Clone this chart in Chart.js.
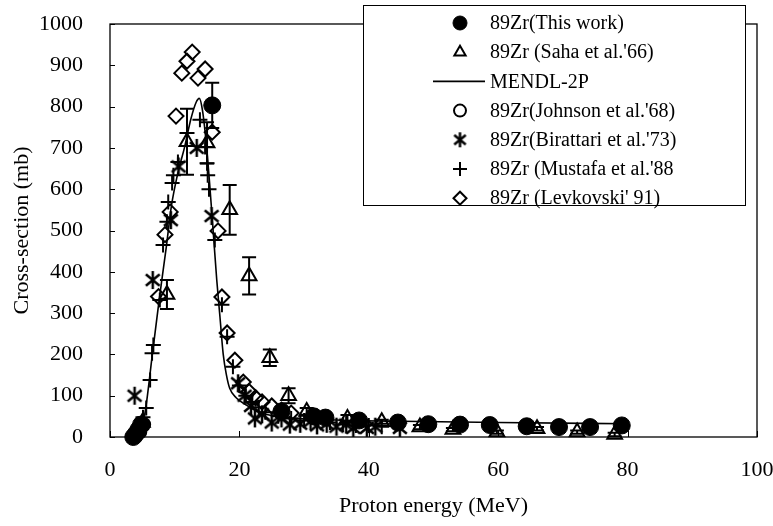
<!DOCTYPE html>
<html>
<head>
<meta charset="utf-8">
<script src="https://cdn.jsdelivr.net/npm/chart.js@4/dist/chart.umd.min.js"></script>
<style>
  html, body { margin: 0; padding: 0; background: #fff; }
  #wrap { width: 773px; height: 526px; position: relative; }
</style>
</head>
<body>
<div id="wrap"><canvas id="chart"></canvas></div>
<script>
/* values: energy in MeV, cross-section in mb */

// 89Zr (This work), filled circles with error bars
const workE   = [3.6, 4.0, 4.4, 4.8, 15.8, 26.5, 31.5, 33.3, 38.5, 44.5, 49.2, 54.1, 58.7, 64.4, 69.4, 74.2, 79.1];
const workXS  = [0, 8, 18, 30, 803, 62, 50, 47, 40, 35, 31, 30, 29, 26, 24, 24, 28];
const workErr = [2, 2, 3, 3, 55, 6, 5, 5, 4, 4, 3, 3, 3, 3, 3, 3, 3];

// Saha et al.'66, open triangles with error bars
const sahaE   = [5.0, 8.8, 11.9, 15.0, 18.5, 21.5, 24.7, 27.6, 30.4, 36.7, 42.0, 47.9, 53.0, 59.8, 66.0, 72.2, 78.0];
const sahaXS  = [35, 345, 715, 712, 550, 390, 192, 100, 62, 45, 37, 24, 18, 12, 20, 12, 6];
const sahaErr = [5, 35, 80, 50, 60, 45, 20, 18, 8, 8, 5, 5, 4, 4, 4, 4, 4];

// MENDL-2P calculation
const mendlE  = [3.8, 4.6, 5.2, 5.7, 6.5, 7.6, 8.7, 9.5, 10.5, 11.5, 12.5, 13.3, 13.8, 14.3, 15.0, 15.8, 16.5, 17.0, 17.5, 18.0, 18.5, 19.5, 21.0, 23.0, 25.0, 28.0, 35.0, 45.0, 60.0, 80.0];
const mendlXS = [0, 10, 40, 90, 194, 332, 460, 560, 640, 700, 770, 810, 820, 790, 690, 530, 380, 290, 200, 150, 118, 95, 78, 60, 52, 46, 41, 38, 35, 32];

// Johnson et al.'68, open circles
const johnE  = [4.0, 4.6, 5.2];
const johnXS = [2, 12, 30];

// Birattari et al.'73, asterisks
const birE  = [3.8, 6.6, 9.4, 10.6, 13.4, 15.7, 19.8, 20.8, 21.8, 22.4, 23.5, 25.0, 26.5, 27.8, 29.4, 31.0, 32.0, 33.5, 35.0, 36.5, 37.6, 39.7, 41.0, 44.8];
const birXS = [100, 380, 525, 655, 700, 535, 130, 100, 75, 45, 55, 35, 45, 30, 32, 38, 28, 32, 25, 30, 22, 22, 25, 22];

// Mustafa et al.'88, plus signs
const musE  = [5.1, 5.6, 6.2, 6.5, 6.7, 7.7, 8.2, 8.8, 9.0, 9.6, 9.8, 10.5, 11.9, 13.9, 14.7, 15.0, 15.1, 15.3, 16.2, 17.3, 18.1, 19.0, 20.0, 21.0, 22.0, 23.0, 24.0, 26.0, 28.0, 30.0, 32.0, 34.0, 36.0, 38.0, 40.0, 42.0];
const musXS = [48, 70, 138, 203, 223, 332, 465, 521, 569, 615, 634, 666, 736, 768, 702, 663, 634, 600, 477, 320, 243, 170, 125, 100, 85, 72, 60, 50, 45, 40, 38, 35, 30, 28, 28, 25];

// Levkovski '91, open diamonds
const levE  = [7.5, 8.5, 9.3, 10.2, 11.1, 11.9, 12.7, 13.6, 14.7, 15.8, 16.7, 17.3, 18.1, 19.3, 20.6, 21.5, 22.5, 23.5, 25.0, 26.5, 28.0];
const levXS = [340, 490, 545, 777, 881, 910, 932, 869, 891, 738, 499, 339, 252, 186, 133, 110, 95, 85, 75, 65, 58];

const xTicks = [0, 20, 40, 60, 80, 100];
const yTicks = [0, 100, 200, 300, 400, 500, 600, 700, 800, 900, 1000];

const FONT = "'Liberation Serif', 'Times New Roman', serif";

function pts(xs, ys) {
    return xs.map((x, i) => ({ x: x, y: ys[i] }));
}

// six-armed asterisk marker
function makeAsterisk(size, lw) {
    const c = document.createElement('canvas');
    c.width = size;
    c.height = size;
    const g = c.getContext('2d');
    g.strokeStyle = '#000';
    g.lineWidth = lw;
    const m = size / 2, r = size / 2 - 1;
    [90, 40, 140].forEach(a => {
        const rad = a * Math.PI / 180;
        g.beginPath();
        g.moveTo(m - r * Math.cos(rad), m - r * Math.sin(rad));
        g.lineTo(m + r * Math.cos(rad), m + r * Math.sin(rad));
        g.stroke();
    });
    return c;
}
const asterisk = makeAsterisk(20, 2.5);
const asteriskSmall = makeAsterisk(17, 2.5);

const datasets = [
    {
        label: "89Zr(This work)", data: pts(workE, workXS), errors: workErr,
        pointStyle: 'circle', pointRadius: 8.5, backgroundColor: '#000', borderColor: '#000', borderWidth: 1,
        legendRadius: 7, legendFill: '#000'
    },
    {
        label: "89Zr (Saha et al.'66)", data: pts(sahaE, sahaXS), errors: sahaErr,
        pointStyle: 'triangle', pointRadius: 8.5, backgroundColor: 'rgba(0,0,0,0)', borderColor: '#000', borderWidth: 2,
        legendRadius: 6.5
    },
    {
        label: "MENDL-2P", data: pts(mendlE, mendlXS), showLine: true, pointRadius: 0,
        borderColor: '#000', borderWidth: 1.6, cubicInterpolationMode: 'monotone', legendLine: true
    },
    {
        label: "89Zr(Johnson et al.'68)", data: pts(johnE, johnXS),
        pointStyle: 'circle', pointRadius: 6.5, backgroundColor: 'rgba(0,0,0,0)', borderColor: '#000', borderWidth: 2,
        legendRadius: 6
    },
    {
        label: "89Zr(Birattari et al.'73)", data: pts(birE, birXS),
        pointStyle: asterisk, pointRadius: 10, borderColor: '#000',
        legendStyle: asteriskSmall
    },
    {
        label: "89Zr (Mustafa et al.'88", data: pts(musE, musXS),
        pointStyle: 'cross', pointRadius: 7.5, borderColor: '#000', borderWidth: 2,
        legendRadius: 7
    },
    {
        label: "89Zr (Levkovski' 91)", data: pts(levE, levXS),
        pointStyle: 'rectRot', pointRadius: 7.5, backgroundColor: 'rgba(0,0,0,0)', borderColor: '#000', borderWidth: 2,
        legendRadius: 6.5
    }
];
datasets.forEach(d => { d.clip = false; });

// frame around the plot and tick marks pointing inwards
const framePlugin = {
    id: 'frame',
    beforeDatasetsDraw(chart) {
        const { ctx, chartArea: a, scales } = chart;
        ctx.save();
        ctx.strokeStyle = '#000';
        ctx.lineWidth = 1.3;
        ctx.strokeRect(a.left, a.top, a.right - a.left, a.bottom - a.top);
        ctx.lineWidth = 1;
        ctx.beginPath();
        yTicks.forEach(v => {
            const y = Math.round(scales.y.getPixelForValue(v)) + 0.5;
            ctx.moveTo(a.left, y);
            ctx.lineTo(a.left + 5, y);
        });
        xTicks.forEach(v => {
            const x = Math.round(scales.x.getPixelForValue(v)) + 0.5;
            ctx.moveTo(x, a.bottom);
            ctx.lineTo(x, a.bottom - 6);
        });
        ctx.stroke();

        // error bars, under the markers
        ctx.lineWidth = 2;
        chart.data.datasets.forEach(ds => {
            if (!ds.errors) return;
            ds.data.forEach((p, i) => {
                const x = scales.x.getPixelForValue(p.x);
                const y1 = scales.y.getPixelForValue(p.y + ds.errors[i]);
                const y2 = scales.y.getPixelForValue(p.y - ds.errors[i]);
                ctx.beginPath();
                ctx.moveTo(x, y1); ctx.lineTo(x, y2);
                ctx.moveTo(x - 7, y1); ctx.lineTo(x + 7, y1);
                ctx.moveTo(x - 7, y2); ctx.lineTo(x + 7, y2);
                ctx.stroke();
            });
        });
        ctx.restore();
    }
};

// boxed legend in the upper right, drawn over the plot
const legendPlugin = {
    id: 'boxLegend',
    afterDraw(chart) {
        const ctx = chart.ctx;
        const box = { x: 363, y: 5, w: 382, h: 200 };
        ctx.save();
        ctx.fillStyle = '#fff';
        ctx.fillRect(box.x, box.y, box.w, box.h);
        ctx.strokeStyle = '#000';
        ctx.lineWidth = 1;
        ctx.strokeRect(box.x + 0.5, box.y + 0.5, box.w, box.h);
        ctx.font = '20px ' + FONT;
        ctx.textBaseline = 'middle';
        chart.data.datasets.forEach((ds, i) => {
            const y = 23 + i * 29.2;
            if (ds.legendLine) {
                ctx.strokeStyle = '#000';
                ctx.lineWidth = 1.6;
                ctx.beginPath();
                ctx.moveTo(433, y);
                ctx.lineTo(485, y);
                ctx.stroke();
            } else {
                ctx.fillStyle = ds.legendFill || 'rgba(0,0,0,0)';
                ctx.strokeStyle = '#000';
                ctx.lineWidth = ds.borderWidth || 2;
                Chart.helpers.drawPoint(ctx, {
                    pointStyle: ds.legendStyle || ds.pointStyle,
                    radius: ds.legendRadius || 7,
                    rotation: 0,
                    borderWidth: ds.borderWidth || 2
                }, 460, y);
            }
            ctx.fillStyle = '#000';
            ctx.fillText(ds.label, 490, y + 1);
        });
        ctx.restore();
    }
};

new Chart(document.getElementById('chart'), {
    type: 'scatter',
    data: { datasets: datasets },
    options: {
        responsive: true,
        maintainAspectRatio: false,
        animation: false,
        layout: { padding: { top: 24, right: 16, left: 0, bottom: 0 } },
        plugins: {
            legend: { display: false },
            tooltip: { enabled: false }
        },
        scales: {
            x: {
                type: 'linear',
                min: 0,
                max: 100,
                afterBuildTicks: s => { s.ticks = xTicks.map(v => ({ value: v })); },
                afterFit: s => { s.height = 89; s.paddingLeft = 0; s.paddingRight = 0; },
                grid: { display: false, drawTicks: false },
                border: { display: false },
                ticks: { color: '#000', padding: 20, maxRotation: 0, font: { family: FONT, size: 22 }, callback: v => String(v) },
                title: {
                    display: true, text: 'Proton energy (MeV)', color: '#000',
                    padding: { top: 0, bottom: 7 }, font: { family: FONT, size: 22 }
                }
            },
            y: {
                type: 'linear',
                min: 0,
                max: 1000,
                afterBuildTicks: s => { s.ticks = yTicks.map(v => ({ value: v })); },
                afterFit: s => { s.width = 110; s.paddingTop = 0; s.paddingBottom = 0; },
                grid: { display: false, drawTicks: false },
                border: { display: false },
                ticks: { color: '#000', padding: 27, font: { family: FONT, size: 22 }, callback: v => String(v) },
                title: {
                    display: true, text: 'Cross-section (mb)', color: '#000',
                    padding: { top: 9, bottom: 0 }, font: { family: FONT, size: 22 }
                }
            }
        }
    },
    plugins: [framePlugin, legendPlugin]
});
</script>
</body>
</html>
